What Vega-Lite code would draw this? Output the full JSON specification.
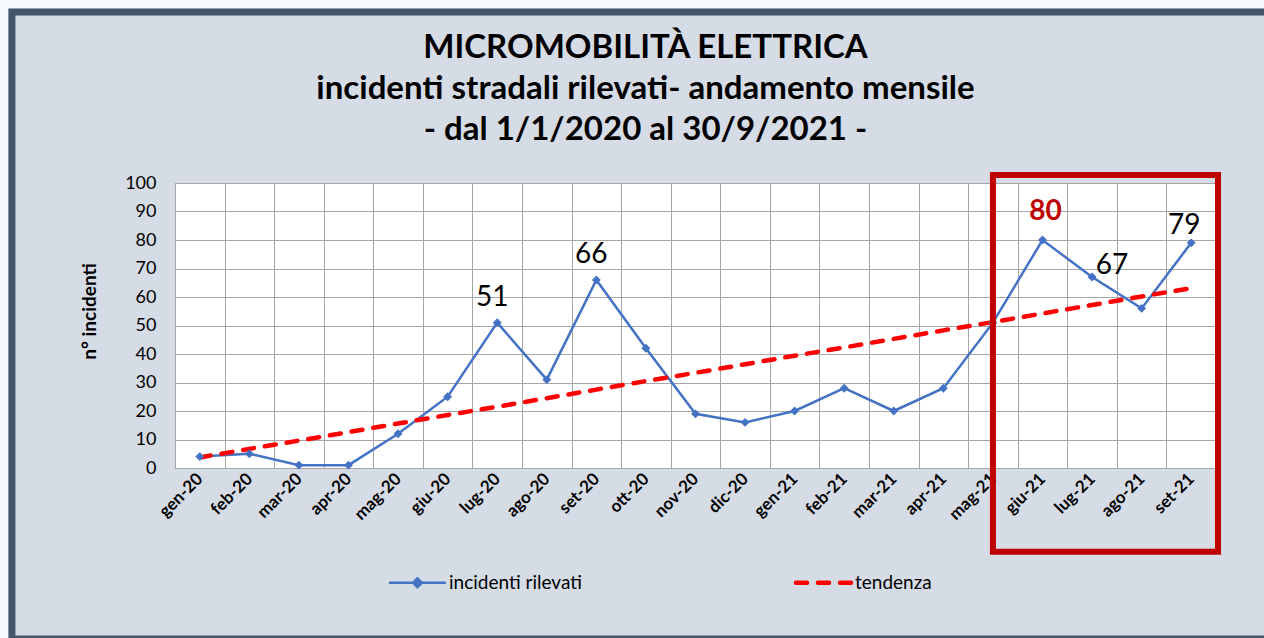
{
  "$schema": "https://vega.github.io/schema/vega-lite/v6.json",
  "width": 1041,
  "height": 285,
  "autosize": {"type": "none"},
  "padding": {"left": 175, "top": 183, "right": 48, "bottom": 170},
  "background": "#D6DCE5",
  "title": {
    "text": ["MICROMOBILITÀ ELETTRICA", "incidenti stradali rilevati- andamento mensile", "- dal 1/1/2020 al 30/9/2021 -"],
    "font": "Lato",
    "fontSize": 33,
    "fontWeight": "bold",
    "lineHeight": 41,
    "color": "#000000",
    "anchor": "middle",
    "frame": "group",
    "dx": -50,
    "offset": -155
  },
  "datasets": {
    "mesi": [
      {"mese": "gen-20", "incidenti rilevati": 4, "tendenza": 3.7},
      {"mese": "feb-20", "incidenti rilevati": 5, "tendenza": 6.7},
      {"mese": "mar-20", "incidenti rilevati": 1, "tendenza": 9.6},
      {"mese": "apr-20", "incidenti rilevati": 1, "tendenza": 12.6},
      {"mese": "mag-20", "incidenti rilevati": 12, "tendenza": 15.6},
      {"mese": "giu-20", "incidenti rilevati": 25, "tendenza": 18.6},
      {"mese": "lug-20", "incidenti rilevati": 51, "tendenza": 21.5},
      {"mese": "ago-20", "incidenti rilevati": 31, "tendenza": 24.5},
      {"mese": "set-20", "incidenti rilevati": 66, "tendenza": 27.5},
      {"mese": "ott-20", "incidenti rilevati": 42, "tendenza": 30.5},
      {"mese": "nov-20", "incidenti rilevati": 19, "tendenza": 33.4},
      {"mese": "dic-20", "incidenti rilevati": 16, "tendenza": 36.4},
      {"mese": "gen-21", "incidenti rilevati": 20, "tendenza": 39.4},
      {"mese": "feb-21", "incidenti rilevati": 28, "tendenza": 42.3},
      {"mese": "mar-21", "incidenti rilevati": 20, "tendenza": 45.3},
      {"mese": "apr-21", "incidenti rilevati": 28, "tendenza": 48.3},
      {"mese": "mag-21", "incidenti rilevati": 51, "tendenza": 51.2},
      {"mese": "giu-21", "incidenti rilevati": 80, "tendenza": 54.2},
      {"mese": "lug-21", "incidenti rilevati": 67, "tendenza": 57.2},
      {"mese": "ago-21", "incidenti rilevati": 56, "tendenza": 60.2},
      {"mese": "set-21", "incidenti rilevati": 79, "tendenza": 63.1}
    ],
    "riquadri": [
      {"tipo": "margine", "x1": -4.03, "x2": 22.5, "y1": 164.2, "y2": -70},
      {"tipo": "cornice", "x1": -3.79, "x2": 21.7, "y1": 160, "y2": -60},
      {"tipo": "evidenza", "x1": 16, "x2": 20.54, "y1": 102.8, "y2": -29.4}
    ]
  },
  "config": {
    "font": "Lato",
    "view": {"fill": "#FFFFFF", "stroke": "#A6A6A6", "strokeWidth": 1},
    "axis": {"gridColor": "#A6A6A6", "gridWidth": 1, "domainColor": "#A6A6A6", "ticks": false, "labelColor": "#000000", "titleColor": "#000000"}
  },
  "layer": [
    {
      "data": {"name": "riquadri"},
      "encoding": {
        "x": {"field": "x1", "type": "quantitative", "scale": {"domain": [-0.5, 20.5], "nice": false, "zero": false}, "axis": null},
        "x2": {"field": "x2"},
        "y": {"field": "y1", "type": "quantitative", "scale": {"domain": [0, 100], "nice": false, "zero": false}, "axis": null},
        "y2": {"field": "y2"}
      },
      "layer": [
        {"transform": [{"filter": "datum.tipo === 'margine'"}], "mark": {"type": "rect", "fill": null, "fillOpacity": 0, "stroke": "#F6FAFD", "strokeWidth": 17}},
        {"transform": [{"filter": "datum.tipo === 'cornice'"}], "mark": {"type": "rect", "fill": null, "fillOpacity": 0, "stroke": "#44546A", "strokeWidth": 7}}
      ]
    },
    {
      "data": {"name": "mesi"},
      "encoding": {
        "x": {
          "field": "mese", "type": "ordinal", "sort": null,
          "scale": {"paddingInner": 0, "paddingOuter": 0},
          "axis": {"title": null, "labelAngle": -45, "labelFontSize": 17, "labelFontWeight": "bold", "labelPadding": 8, "tickBand": "extent", "grid": true, "labelAlign": "right", "labelBaseline": "middle"}
        },
        "y": {
          "field": "incidenti rilevati", "type": "quantitative",
          "scale": {"domain": [0, 100], "nice": false, "zero": false},
          "axis": {"title": "n° incidenti", "values": [0, 10, 20, 30, 40, 50, 60, 70, 80, 90, 100], "tickCount": 11, "labelOverlap": false, "grid": true,
            "labelFontSize": 18, "labelPadding": 19, "titleFontSize": 19, "titleFontWeight": "bold", "titleBaseline": "middle", "titleX": -86, "titleY": 128}
        }
      },
      "layer": [
        {
          "mark": {"type": "line", "strokeWidth": 2.5},
          "encoding": {
            "color": {"datum": "incidenti rilevati", "type": "nominal",
              "scale": {"domain": ["incidenti rilevati", "tendenza"], "range": ["#4472C4", "#FF0000"]},
              "legend": {
                "title": null, "orient": "none", "legendX": 233, "legendY": 390, "direction": "horizontal", "columns": 2, "columnPadding": 205,
                "symbolType": "stroke", "symbolSize": 3025, "labelFont": "Lato", "labelFontSize": 19, "labelColor": "#000000", "labelOffset": 22,
                "encode": {"symbols": {"update": {
                  "shape": {"signal": "datum.value === 'tendenza' ? 'stroke' : 'M-1,0L-0.16,0M0.16,0L1,0M-0.16,0L0,-0.16L0.16,0L0,0.16Z'"},
                  "fill": {"signal": "datum.value === 'tendenza' ? 'transparent' : '#4472C4'"},
                  "strokeDash": {"signal": "datum.value === 'tendenza' ? [11, 11] : [1, 0]"},
                  "strokeWidth": {"signal": "datum.value === 'tendenza' ? 4.5 : 2.5"},
                  "strokeCap": {"value": "round"}
                }}}
              }
            }
          }
        },
        {
          "mark": {"type": "line", "strokeWidth": 4.5, "strokeDash": [11, 11], "strokeCap": "round"},
          "encoding": {
            "y": {"field": "tendenza", "type": "quantitative", "scale": {"domain": [0, 100], "nice": false, "zero": false},
              "axis": {"title": "n° incidenti", "values": [0, 10, 20, 30, 40, 50, 60, 70, 80, 90, 100], "tickCount": 11, "labelOverlap": false, "grid": true,
                "labelFontSize": 18, "labelPadding": 19, "titleFontSize": 19, "titleFontWeight": "bold", "titleBaseline": "middle", "titleX": -86, "titleY": 128}},
            "color": {"datum": "tendenza", "type": "nominal"}
          }
        },
        {
          "mark": {"type": "point", "shape": "diamond", "filled": true, "size": 80, "color": "#4472C4", "opacity": 1}
        },
        {
          "transform": [{"filter": "datum.mese === 'lug-20' || datum.mese === 'set-20'"}],
          "mark": {"type": "text", "fontSize": 28, "color": "#000000", "dx": -5, "dy": -25},
          "encoding": {"text": {"field": "incidenti rilevati"}}
        },
        {
          "transform": [{"filter": "datum.mese === 'giu-21'"}],
          "mark": {"type": "text", "fontSize": 28, "fontWeight": "bold", "color": "#C00000", "dx": 3, "dy": -28},
          "encoding": {"text": {"field": "incidenti rilevati"}}
        },
        {
          "transform": [{"filter": "datum.mese === 'lug-21'"}],
          "mark": {"type": "text", "fontSize": 28, "color": "#000000", "dx": 20, "dy": -11},
          "encoding": {"text": {"field": "incidenti rilevati"}}
        },
        {
          "transform": [{"filter": "datum.mese === 'set-21'"}],
          "mark": {"type": "text", "fontSize": 28, "color": "#000000", "dx": -7, "dy": -17},
          "encoding": {"text": {"field": "incidenti rilevati"}}
        }
      ]
    },
    {
      "data": {"name": "riquadri"},
      "transform": [{"filter": "datum.tipo === 'evidenza'"}],
      "mark": {"type": "rect", "fill": null, "fillOpacity": 0, "stroke": "#C00000", "strokeWidth": 6},
      "encoding": {
        "x": {"field": "x1", "type": "quantitative", "scale": {"domain": [-0.5, 20.5], "nice": false, "zero": false}, "axis": null},
        "x2": {"field": "x2"},
        "y": {"field": "y1", "type": "quantitative", "scale": {"domain": [0, 100], "nice": false, "zero": false}, "axis": null},
        "y2": {"field": "y2"}
      }
    }
  ],
  "resolve": {"scale": {"x": "independent", "y": "independent"}, "axis": {"x": "independent", "y": "independent"}}
}
